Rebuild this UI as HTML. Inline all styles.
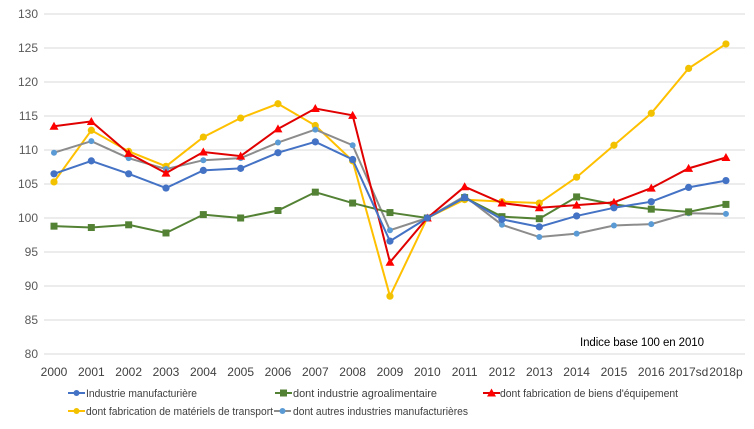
<!DOCTYPE html>
<html><head><meta charset="utf-8"><style>
html,body{margin:0;padding:0;background:#fff}
svg text{font-family:"Liberation Sans",sans-serif}
</style></head><body>
<svg id="c" width="754" height="424" xmlns="http://www.w3.org/2000/svg"></svg>
<script>
const s=document.getElementById('c');
let h='';
const Y=v=>14+(130-v)*6.8, X=i=>54+i*37.33;
for(let v=80;v<=130;v+=5){const y=Y(v);h+=`<line x1="44" x2="745" y1="${y}" y2="${y}" stroke="#d9d9d9" stroke-width="1"/><text x="38" y="${y+4}" font-size="12" fill="#595959" text-anchor="end">${v}</text>`;}
const yrs=['2000','2001','2002','2003','2004','2005','2006','2007','2008','2009','2010','2011','2012','2013','2014','2015','2016','2017sd','2018p'];
yrs.forEach((t,i)=>h+=`<text x="${X(i)}" y="376" font-size="12" fill="#404040" text-anchor="middle">${t}</text>`);
h+=`<text x="580" y="346" font-size="11.5" fill="#000" textLength="124">Indice base 100 en 2010</text>`;
const S=[
{c:'#f2c200',l:'#ffc000',m:'o',d:[105.3,112.9,109.8,107.6,111.9,114.7,116.8,113.6,108.4,88.5,100,102.7,102.4,102.2,106,110.7,115.4,122,125.6]},
{c:'#5b9bd5',l:'#8c8c8c',m:'o',r:3,d:[109.6,111.3,108.8,107.2,108.5,108.8,111.1,113,110.7,98.2,100,103.2,99,97.2,97.7,98.9,99.1,100.7,100.6]},
{c:'#548235',l:'#548235',m:'s',d:[98.8,98.6,99,97.8,100.5,100,101.1,103.8,102.2,100.8,100,103,100.2,99.9,103.1,102,101.3,100.9,102]},
{c:'#ff0000',l:'#e00000',m:'t',d:[113.5,114.2,109.5,106.6,109.7,109.1,113.1,116.1,115.1,93.5,100,104.6,102.2,101.5,101.9,102.3,104.4,107.3,108.9]},
{c:'#4472c4',l:'#4472c4',m:'o',d:[106.5,108.4,106.5,104.4,107,107.3,109.6,111.2,108.6,96.6,100,103,99.8,98.7,100.3,101.5,102.4,104.5,105.5]},
];
function mk(m,c,x,y,r){r=r||3.6;if(m=='o')return `<circle cx="${x}" cy="${y}" r="${r}" fill="${c}"/>`;if(m=='s')return `<rect x="${x-3.5}" y="${y-3.5}" width="7" height="7" fill="${c}"/>`;return `<polygon points="${x},${y-4.5} ${x+4.5},${y+3.5} ${x-4.5},${y+3.5}" fill="${c}"/>`;}
S.forEach(o=>{h+=`<polyline fill="none" stroke="${o.l}" stroke-width="2" points="${o.d.map((v,i)=>X(i)+','+Y(v)).join(' ')}"/>`;o.d.forEach((v,i)=>h+=mk(o.m,o.c,X(i),Y(v),o.r));});
const L=[[68,393,'#4472c4','#4472c4','o','Industrie manufacturière',86,111],[275,393,'#548235','#548235','s','dont industrie agroalimentaire',293,144],[483,393,'#e00000','#ff0000','t','dont fabrication de biens d\'équipement',500,178],[68,411,'#ffc000','#f2c200','o','dont fabrication de matériels de transport',86,187],[274,411,'#8c8c8c','#5b9bd5','o','dont autres industries manufacturières',293,175]];
L.forEach(a=>{h+=`<line x1="${a[0]}" x2="${a[0]+17}" y1="${a[1]}" y2="${a[1]}" stroke="${a[2]}" stroke-width="2"/>`+mk(a[4],a[3],a[0]+8.5,a[1],3)+`<text x="${a[6]}" y="${a[1]+4}" font-size="11" fill="#404040" textLength="${a[7]}" lengthAdjust="spacingAndGlyphs">${a[5]}</text>`;});
s.innerHTML=h;
</script>
</body></html>
